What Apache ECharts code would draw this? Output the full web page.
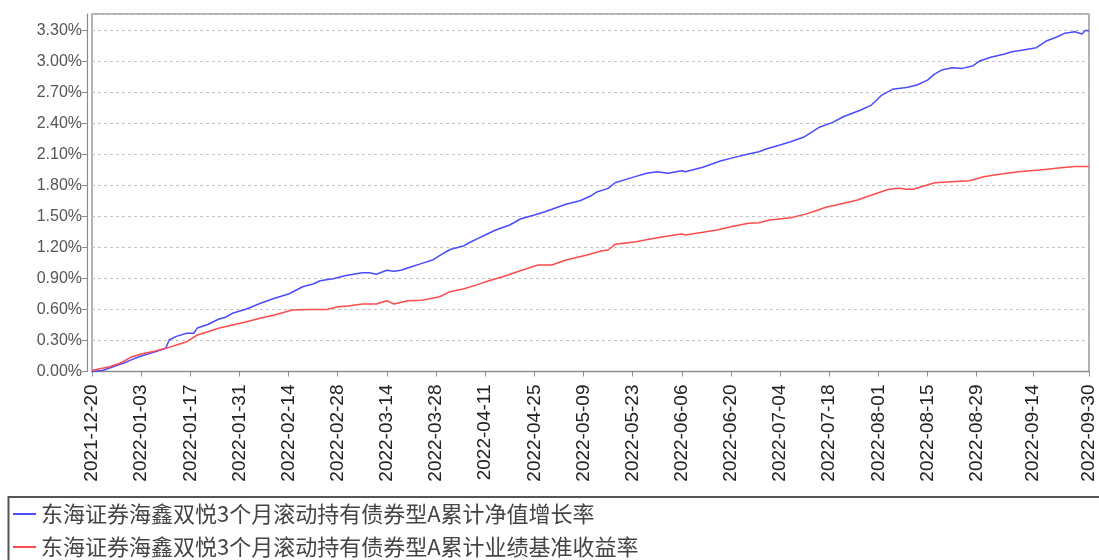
<!DOCTYPE html>
<html>
<head>
<meta charset="utf-8">
<script src="https://cdn.jsdelivr.net/npm/echarts@6/dist/echarts.min.js"></script>
<style>
  html, body { margin: 0; padding: 0; background: #fff; }
  #chart { width: 1099px; height: 560px; }
</style>
</head>
<body>
<div id="chart"></div>
<script>
var seriesNames = ['东海证券海鑫双悦3个月滚动持有债券型A累计净值增长率', '东海证券海鑫双悦3个月滚动持有债券型A累计业绩基准收益率']

var startDate = '2021-12-20'
var endDate = '2022-09-30'

// x tick labels (dates)
var tickDates = ['2021-12-20', '2022-01-03', '2022-01-17', '2022-01-31', '2022-02-14', '2022-02-28', '2022-03-14',
  '2022-03-28', '2022-04-11', '2022-04-25', '2022-05-09', '2022-05-23', '2022-06-06', '2022-06-20',
  '2022-07-04', '2022-07-18', '2022-08-01', '2022-08-15', '2022-08-29', '2022-09-14', '2022-09-30']

// 累计净值增长率 (%)
var navDates = ['2021-12-20', '2021-12-23', '2021-12-28', '2021-12-29', '2021-12-31', '2022-01-03', '2022-01-07',
  '2022-01-10', '2022-01-11', '2022-01-13', '2022-01-16', '2022-01-18', '2022-01-19', '2022-01-22', '2022-01-25',
  '2022-01-27', '2022-01-29', '2022-02-02', '2022-02-06', '2022-02-10', '2022-02-14', '2022-02-18', '2022-02-21',
  '2022-02-23', '2022-02-27', '2022-03-02', '2022-03-07', '2022-03-09', '2022-03-11', '2022-03-14', '2022-03-16',
  '2022-03-18', '2022-03-21', '2022-03-24', '2022-03-27', '2022-03-29', '2022-04-01', '2022-04-05', '2022-04-07',
  '2022-04-09', '2022-04-11', '2022-04-14', '2022-04-18', '2022-04-21', '2022-04-25', '2022-04-28', '2022-04-30',
  '2022-05-04', '2022-05-08', '2022-05-11', '2022-05-13', '2022-05-16', '2022-05-18', '2022-05-23', '2022-05-27',
  '2022-05-30', '2022-06-02', '2022-06-06', '2022-06-07', '2022-06-12', '2022-06-17', '2022-06-21', '2022-06-25',
  '2022-06-28', '2022-06-30', '2022-07-04', '2022-07-07', '2022-07-11', '2022-07-15', '2022-07-19', '2022-07-22',
  '2022-07-27', '2022-07-30', '2022-08-02', '2022-08-05', '2022-08-09', '2022-08-12', '2022-08-15', '2022-08-17',
  '2022-08-19', '2022-08-22', '2022-08-25', '2022-08-28', '2022-08-30', '2022-09-02', '2022-09-06', '2022-09-08',
  '2022-09-10', '2022-09-15', '2022-09-18', '2022-09-21', '2022-09-23', '2022-09-26', '2022-09-28', '2022-09-29',
  '2022-09-30']
var navValues = [0.00, 0.01, 0.07, 0.08, 0.11, 0.15, 0.19,
  0.225, 0.305, 0.34, 0.37, 0.37, 0.42, 0.455, 0.505,
  0.525, 0.563, 0.604, 0.66, 0.708, 0.75, 0.82, 0.846,
  0.878, 0.90, 0.927, 0.955, 0.955, 0.94, 0.98, 0.969,
  0.98, 1.013, 1.046, 1.078, 1.12, 1.18, 1.217, 1.255,
  1.288, 1.32, 1.369, 1.417, 1.475, 1.514, 1.546, 1.569,
  1.617, 1.652, 1.697, 1.739, 1.771, 1.826, 1.878, 1.917,
  1.932, 1.917, 1.942, 1.932, 1.975, 2.036, 2.071, 2.103,
  2.126, 2.152, 2.19, 2.222, 2.271, 2.36, 2.41, 2.464,
  2.529, 2.577, 2.674, 2.729, 2.748, 2.771, 2.819, 2.877,
  2.916, 2.938, 2.932, 2.958, 3.006, 3.039, 3.071, 3.093,
  3.103, 3.132, 3.20, 3.238, 3.271, 3.287, 3.264, 3.30,
  3.293]

// 业绩基准收益率 (%)
var benchDates = ['2021-12-20', '2021-12-25', '2021-12-28', '2021-12-31', '2022-01-03', '2022-01-06', '2022-01-10',
  '2022-01-13', '2022-01-16', '2022-01-19', '2022-01-22', '2022-01-25', '2022-01-29', '2022-02-02', '2022-02-07',
  '2022-02-10', '2022-02-15', '2022-02-20', '2022-02-25', '2022-02-28', '2022-03-03', '2022-03-07', '2022-03-11',
  '2022-03-14', '2022-03-16', '2022-03-20', '2022-03-24', '2022-03-29', '2022-04-01', '2022-04-05', '2022-04-09',
  '2022-04-12', '2022-04-16', '2022-04-21', '2022-04-26', '2022-04-30', '2022-05-04', '2022-05-10', '2022-05-14',
  '2022-05-16', '2022-05-18', '2022-05-24', '2022-05-28', '2022-06-02', '2022-06-06', '2022-06-07', '2022-06-12',
  '2022-06-16', '2022-06-20', '2022-06-25', '2022-06-28', '2022-07-01', '2022-07-07', '2022-07-11', '2022-07-14',
  '2022-07-17', '2022-07-20', '2022-07-24', '2022-07-26', '2022-08-01', '2022-08-04', '2022-08-07', '2022-08-09',
  '2022-08-11', '2022-08-17', '2022-08-22', '2022-08-27', '2022-08-31', '2022-09-05', '2022-09-10', '2022-09-16',
  '2022-09-22', '2022-09-26', '2022-09-30']
var benchValues = [0.01, 0.046, 0.08, 0.137, 0.17, 0.19, 0.224,
  0.256, 0.288, 0.353, 0.385, 0.418, 0.45, 0.482, 0.524,
  0.546, 0.595, 0.60, 0.60, 0.627, 0.633, 0.653, 0.653,
  0.685, 0.653, 0.685, 0.69, 0.723, 0.772, 0.80, 0.843,
  0.878, 0.917, 0.975, 1.03, 1.03, 1.078, 1.127, 1.165,
  1.175, 1.23, 1.255, 1.281, 1.31, 1.33, 1.32, 1.346,
  1.369, 1.40, 1.433, 1.439, 1.465, 1.487, 1.52, 1.552,
  1.588, 1.61, 1.642, 1.659, 1.729, 1.762, 1.772, 1.762,
  1.762, 1.826, 1.836, 1.845, 1.884, 1.91, 1.932, 1.949,
  1.971, 1.984, 1.984]

function pad(n) { return n < 10 ? '0' + n : '' + n }
// every calendar day from start to end, as category names
function dayList(a, b) {
  var p = a.split('-'), q = b.split('-')
  var d = new Date(+p[0], p[1] - 1, +p[2])
  var end = new Date(+q[0], q[1] - 1, +q[2])
  var out = []
  while (d <= end) {
    out.push(d.getFullYear() + '-' + pad(d.getMonth() + 1) + '-' + pad(d.getDate()))
    d.setDate(d.getDate() + 1)
  }
  return out
}
function pairs(dates, vals) {
  var out = []
  for (var i = 0; i < dates.length; i++) out.push([dates[i], vals[i]])
  return out
}

var days = dayList(startDate, endDate)
var tickSet = {}
tickDates.forEach(function (d) { tickSet[d] = true })
function isTick(i, v) { return !!tickSet[v] }

var chart = echarts.init(document.getElementById('chart'))

chart.setOption({
  animation: false,
  grid: {
    left: 92, right: 10, top: 14, bottom: 188.5,
    show: true, borderColor: '#999', borderWidth: 1.5
  },
  xAxis: {
    type: 'category',
    data: days,
    boundaryGap: false,
    offset: 4,
    axisLine: { show: true, lineStyle: { color: '#8a8a8a', width: 1.2 } },
    axisTick: { show: true, length: 5, interval: isTick, lineStyle: { color: '#8a8a8a' } },
    splitLine: { show: false },
    axisLabel: {
      interval: isTick,
      rotate: 90,
      margin: 9,
      fontSize: 19,
      fontFamily: 'Liberation Sans',
      color: '#222'
    }
  },
  yAxis: {
    type: 'value',
    min: 0,
    max: 3.458,
    interval: 0.3,
    offset: 5,
    axisLine: { show: true, lineStyle: { color: '#8a8a8a', width: 1.2 } },
    axisTick: { show: true, length: 5, lineStyle: { color: '#8a8a8a' } },
    splitLine: { show: true, lineStyle: { color: '#c4c4c4', type: [3, 3], width: 1 } },
    axisLabel: {
      showMaxLabel: false,
      margin: 5,
      fontSize: 16,
      fontFamily: 'Liberation Sans',
      color: '#555',
      formatter: function (v) { return v.toFixed(2) + '%' }
    }
  },
  legend: {
    orient: 'vertical',
    left: 13,
    top: 503,
    padding: 0,
    itemGap: 11,
    itemWidth: 23,
    itemHeight: 2,
    icon: 'rect',
    data: seriesNames,
    textStyle: { fontSize: 22, lineHeight: 22, fontFamily: 'Noto Sans CJK SC', color: '#444' }
  },
  graphic: [{
    type: 'rect',
    shape: { x: 8.5, y: 497, width: 1200, height: 100 },
    style: { fill: 'none', stroke: '#555', lineWidth: 2 },
    silent: true
  }],
  series: [{
    name: seriesNames[0],
    type: 'line',
    data: pairs(navDates, navValues),
    showSymbol: false,
    color: '#4b4bff',
    lineStyle: { width: 1.5, color: '#4b4bff' }
  }, {
    name: seriesNames[1],
    type: 'line',
    data: pairs(benchDates, benchValues),
    showSymbol: false,
    color: '#ff4b4b',
    lineStyle: { width: 1.5, color: '#ff4b4b' }
  }]
})
</script>
</body>
</html>
